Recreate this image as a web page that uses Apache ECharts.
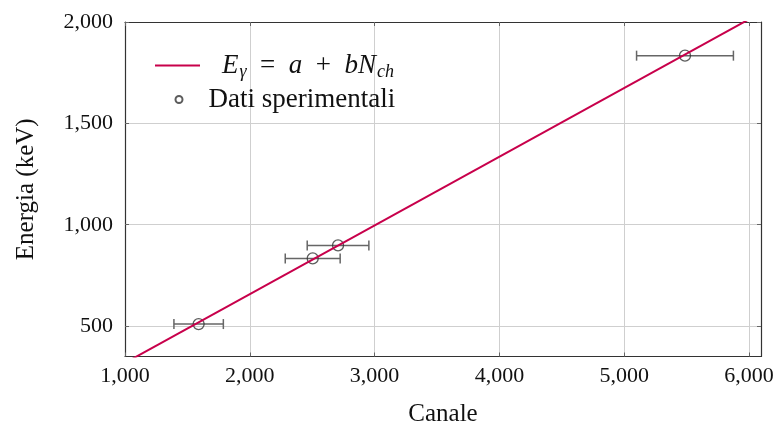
<!DOCTYPE html>
<html>
<head>
<meta charset="utf-8">
<script src="https://cdn.jsdelivr.net/npm/echarts@6/dist/echarts.min.js"></script>
<style>html,body{margin:0;padding:0;background:#fff;}#c{width:779px;height:430px;}</style>
</head>
<body>
<div id="c"></div>
<script>
// Data
var channels = [1590, 2504, 2707, 5487];
var energies = [510, 834, 898, 1834];
var channelErr = [198, 220, 247, 388];
var fitLineX = [1000, 6096];
var fitLineY = [318.5, 2046];
var xTicks = [1000, 2000, 3000, 4000, 5000, 6000];
var yTicks = [500, 1000, 1500, 2000];

var FONT = 'Liberation Serif';
var pts = channels.map(function (c, i) { return [c, energies[i]]; });
var errs = channels.map(function (c, i) { return [c - channelErr[i], c + channelErr[i], energies[i]]; });
var fit = fitLineX.map(function (x, i) { return [x, fitLineY[i]]; });
function fmt(v) { return Number(v).toLocaleString('en-US'); }

var chart = echarts.init(document.getElementById('c'), null, {renderer: 'canvas'});
var tickStyle = {show: true, inside: true, length: 4, lineStyle: {color: '#666', width: 1}};
chart.setOption({
  animation: false,
  grid: {left: 125, right: 18, top: 22, bottom: 73.5, containLabel: false, outerBoundsMode: 'none'},
  xAxis: [{
    type: 'value', min: 1000, max: 6096, position: 'bottom',
    name: 'Canale', nameLocation: 'middle', nameGap: 45,
    nameTextStyle: {fontFamily: FONT, fontSize: 25, color: '#111'},
    axisLine: {show: true, lineStyle: {color: '#333', width: 1.2}},
    axisTick: Object.assign({customValues: xTicks}, tickStyle),
    axisLabel: {customValues: xTicks, formatter: fmt, fontFamily: FONT, fontSize: 22, color: '#111', margin: 9},
    splitLine: {show: true, lineStyle: {color: '#cfcfcf', width: 1}}
  }, {
    type: 'value', min: 1000, max: 6096, position: 'top',
    axisLine: {show: true, lineStyle: {color: '#333', width: 1.2}},
    axisTick: Object.assign({customValues: xTicks}, tickStyle),
    axisLabel: {show: false}, splitLine: {show: false}
  }],
  yAxis: [{
    type: 'value', min: 350, max: 2000, position: 'left',
    name: 'Energia (keV)', nameLocation: 'middle', nameGap: 86, nameRotate: 90,
    nameTextStyle: {fontFamily: FONT, fontSize: 25, color: '#111'},
    axisLine: {show: true, lineStyle: {color: '#333', width: 1.2}},
    axisTick: Object.assign({customValues: yTicks}, tickStyle),
    axisLabel: {customValues: yTicks, formatter: fmt, fontFamily: FONT, fontSize: 22, color: '#111', margin: 12},
    splitLine: {show: true, lineStyle: {color: '#cfcfcf', width: 1}}
  }, {
    type: 'value', min: 350, max: 2000, position: 'right',
    axisLine: {show: true, lineStyle: {color: '#333', width: 1.2}},
    axisTick: Object.assign({customValues: yTicks}, tickStyle),
    axisLabel: {show: false}, splitLine: {show: false}
  }],
  legend: [{
    data: [{name: 'fit', icon: 'rect'}], left: 155, top: 52, padding: 0, itemWidth: 45, itemHeight: 2,
    formatter: function () { return '{i|E}{s|γ}{r|  =  }{i|a}{r|  +  }{i|bN}{s|ch}'; },
    textStyle: {fontFamily: FONT, fontSize: 27, color: '#111', padding: [0, 0, 0, 17],
      rich: {
        i: {fontFamily: FONT, fontSize: 27, fontStyle: 'italic', color: '#111'},
        r: {fontFamily: FONT, fontSize: 27, color: '#111'},
        s: {fontFamily: FONT, fontSize: 18, fontStyle: 'italic', color: '#111', padding: [13, 0, 0, 1]}
      }}
  }, {
    data: ['Dati sperimentali'], left: 174.5, top: 86, padding: 0, itemWidth: 7, itemHeight: 7,
    textStyle: {fontFamily: FONT, fontSize: 27, color: '#111', padding: [0, 0, 0, 21]}
  }],
  series: [{
    type: 'custom', name: 'err', xAxisIndex: 0, yAxisIndex: 0, z: 2,
    data: errs,
    renderItem: function (params, api) {
      var a = api.coord([api.value(0), api.value(2)]);
      var b = api.coord([api.value(1), api.value(2)]);
      var h = 5;
      var st = {stroke: '#666', lineWidth: 1.5, fill: null};
      return {type: 'group', children: [
        {type: 'line', shape: {x1: a[0], y1: a[1], x2: b[0], y2: b[1]}, style: st},
        {type: 'line', shape: {x1: a[0], y1: a[1] - h, x2: a[0], y2: a[1] + h}, style: st},
        {type: 'line', shape: {x1: b[0], y1: b[1] - h, x2: b[0], y2: b[1] + h}, style: st}
      ]};
    }
  }, {
    type: 'scatter', name: 'Dati sperimentali', data: pts, z: 3,
    symbol: 'circle', symbolSize: 11,
    itemStyle: {color: 'rgba(255,255,255,0)', borderColor: '#333', borderWidth: 1.3}
  }, {
    type: 'line', name: 'fit', data: fit, z: 4, showSymbol: false, symbol: 'none',
    lineStyle: {color: '#c8004b', width: 2}, itemStyle: {color: '#c8004b'}
  }]
});
</script>
</body>
</html>
